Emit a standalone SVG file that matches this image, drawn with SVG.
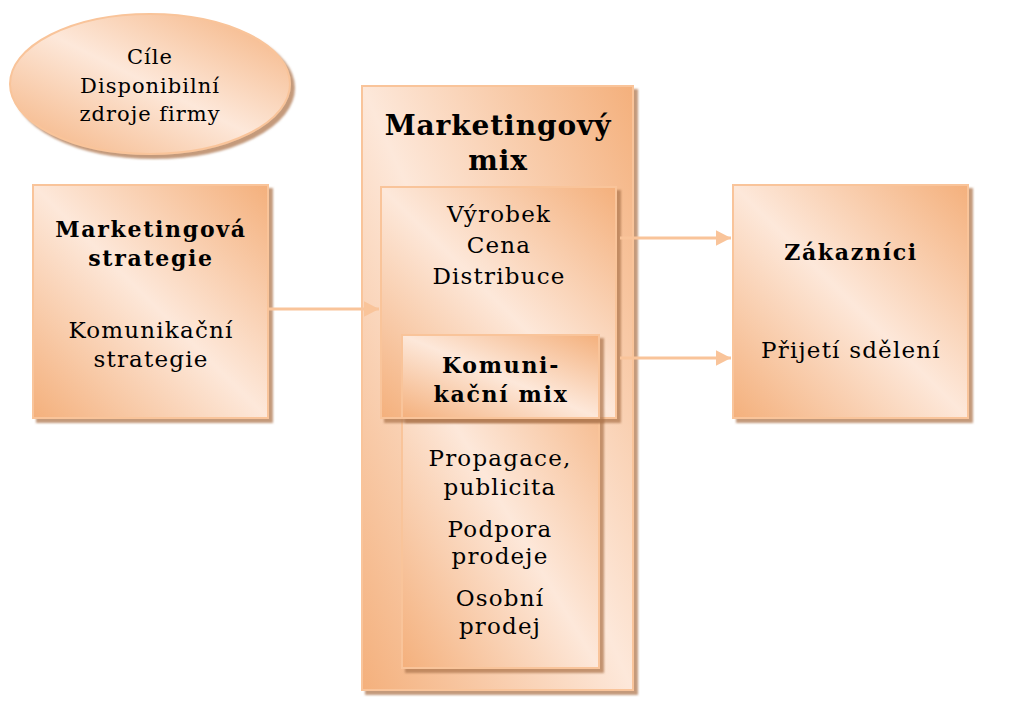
<svg xmlns="http://www.w3.org/2000/svg" width="1036" height="709" viewBox="0 0 1036 709">
  <style>
    .box { stroke: #f9c49a; stroke-width: 2; fill: url(#fillOrange); filter: url(#shadow); }
    .t { font-family: "DejaVu Serif", "Liberation Serif", serif; fill: #000; text-anchor: middle; font-size: 23px; letter-spacing: 1.2px; }
    .b { font-weight: bold; font-size: 22px; letter-spacing: 1.7px; }
    .title { font-weight: bold; font-size: 28px; letter-spacing: 0.9px; }
    .small { font-size: 21px; letter-spacing: 1px; }
    .link { stroke: #f9c49a; stroke-width: 3; fill: none; }
  </style>
  <defs>
    <linearGradient id="fillOrange" x1="1" y1="0" x2="0" y2="1">
      <stop offset="0" stop-color="#f4b07c"/>
      <stop offset="0.5" stop-color="#fde8da"/>
      <stop offset="1" stop-color="#f4b07c"/>
    </linearGradient>
    <filter id="shadow" x="-5%" y="-5%" width="115%" height="115%">
      <feGaussianBlur in="SourceAlpha" stdDeviation="0.8"/>
      <feOffset dx="4" dy="4" result="off"/>
      <feFlood flood-color="#b07850" flood-opacity="0.75"/>
      <feComposite in2="off" operator="in" result="sh"/>
      <feMerge>
        <feMergeNode in="sh"/>
        <feMergeNode in="SourceGraphic"/>
      </feMerge>
    </filter>
    <marker id="arrow" markerWidth="6" markerHeight="6" refX="5" refY="3" orient="auto" markerUnits="strokeWidth">
      <path d="M0,0.4 L5,3 L0,5.6 Z" fill="#f9c49a"/>
    </marker>
  </defs>

  <!-- goals / resources -->
  <g id="cile">
    <ellipse class="box" cx="150" cy="84" rx="140" ry="70"/>
    <text class="t small" x="150" y="64">Cíle</text>
    <text class="t small" x="150" y="93">Disponibilní</text>
    <text class="t small" x="150" y="121">zdroje firmy</text>
  </g>

  <!-- strategy -->
  <g id="strategie">
    <rect class="box" x="33" y="185" width="235" height="233"/>
    <text class="t b" x="151" y="237">Marketingová</text>
    <text class="t b" x="151" y="266">strategie</text>
    <text class="t" x="151" y="338">Komunikační</text>
    <text class="t" x="151" y="367">strategie</text>
  </g>

  <!-- marketing mix container -->
  <g id="mix">
    <rect class="box" x="362" y="86" width="271" height="604"/>
    <text class="t title" x="498" y="135">Marketingový</text>
    <text class="t title" x="498" y="170">mix</text>
  </g>

  <!-- communication mix body -->
  <g id="komunikacni-mix">
    <rect class="box" x="402" y="335" width="197" height="333"/>
    <text class="t" x="500" y="466">Propagace,</text>
    <text class="t" x="500" y="495">publicita</text>
    <text class="t" x="500" y="537">Podpora</text>
    <text class="t" x="500" y="564">prodeje</text>
    <text class="t" x="500" y="606">Osobní</text>
    <text class="t" x="500" y="634">prodej</text>
  </g>

  <!-- product / price / distribution -->
  <g id="vyrobek">
    <rect class="box" x="381" y="187" width="235" height="231"/>
    <text class="t" x="499" y="222">Výrobek</text>
    <text class="t" x="499" y="253">Cena</text>
    <text class="t" x="499" y="284">Distribuce</text>
  </g>

  <!-- communication mix header -->
  <g id="komunikacni-mix-hlavicka">
    <rect class="box" x="402" y="335" width="197" height="83"/>
    <text class="t b" x="501" y="373">Komuni-</text>
    <text class="t b" x="501" y="402">kační mix</text>
  </g>

  <!-- customers -->
  <g id="zakaznici">
    <rect class="box" x="733" y="185" width="235" height="233"/>
    <text class="t b" x="851" y="260">Zákazníci</text>
    <text class="t" x="851" y="358">Přijetí sdělení</text>
  </g>

  <g id="connectors">
    <line class="link" x1="268" y1="309" x2="379" y2="309" marker-end="url(#arrow)"/>
    <line class="link" x1="620" y1="238" x2="731" y2="238" marker-end="url(#arrow)"/>
    <line class="link" x1="620" y1="358" x2="731" y2="358" marker-end="url(#arrow)"/>
  </g>
</svg>
